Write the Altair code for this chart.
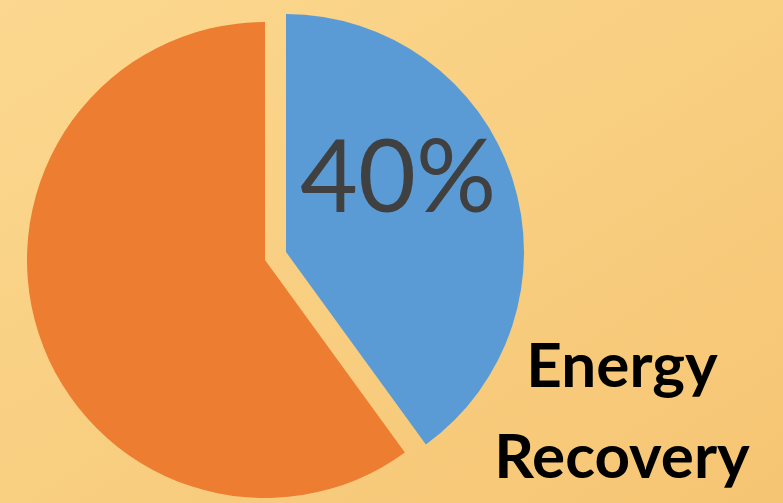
import altair as alt
import pandas as pd

categories = ["Energy Recovery", "Other"]
shares = [40, 60]
slice_colors = ["#5B9BD5", "#ED7D31"]
label_pct = "40%"
label_lines = ["Energy", "Recovery"]

W, H = 783, 503
R = 238

df = pd.DataFrame({"category": categories, "share": shares, "rank": [0, 1]})

bg = alt.Chart(pd.DataFrame({"a": [0]})).mark_rect().encode(
    x=alt.value(0), x2=alt.value(W), y=alt.value(0), y2=alt.value(H),
    color=alt.value(alt.LinearGradient(
        gradient="linear", x1=0, y1=0, x2=1, y2=1,
        stops=[alt.GradientStop(color="#FBD88F", offset=0),
               alt.GradientStop(color="#F6C573", offset=1)])),
)

base = alt.Chart(df).encode(
    theta=alt.Theta("share:Q", stack=True, scale=alt.Scale(domain=[0, 100])),
    order=alt.Order("rank:Q"),
    color=alt.Color("category:N", scale=alt.Scale(domain=categories, range=slice_colors), legend=None),
)

cx_o, cy_o = 265, 260
orange = base.mark_arc(radius=R, xOffset=cx_o - W / 2, yOffset=cy_o - H / 2).encode(
    opacity=alt.condition(alt.datum.category == "Other", alt.value(1), alt.value(0))
)
cx_b, cy_b = 286, 252
blue = base.mark_arc(radius=R, xOffset=cx_b - W / 2, yOffset=cy_b - H / 2).encode(
    opacity=alt.condition(alt.datum.category == "Energy Recovery", alt.value(1), alt.value(0))
)

pct = alt.Chart(pd.DataFrame({"t": [label_pct]})).mark_text(
    font="Lato", fontSize=100, color="#404040", align="center", baseline="alphabetic"
).encode(x=alt.value(398), y=alt.value(212), text="t:N")

lbl = alt.Chart(pd.DataFrame({"t": label_lines, "yy": [387, 478]})).mark_text(
    font="Lato", fontSize=62, fontWeight="bold", color="#000000", align="center", baseline="alphabetic"
).encode(x=alt.value(622), y=alt.Y("yy:Q", scale=None), text="t:N")

chart = alt.layer(bg, orange, blue, pct, lbl).properties(
    width=W, height=H, padding=0, autosize=alt.AutoSizeParams(type="none")
).configure_view(stroke=None).configure(background="#F9CF84")

chart.save("out.html", embed_options={"renderer": "svg", "actions": False})
